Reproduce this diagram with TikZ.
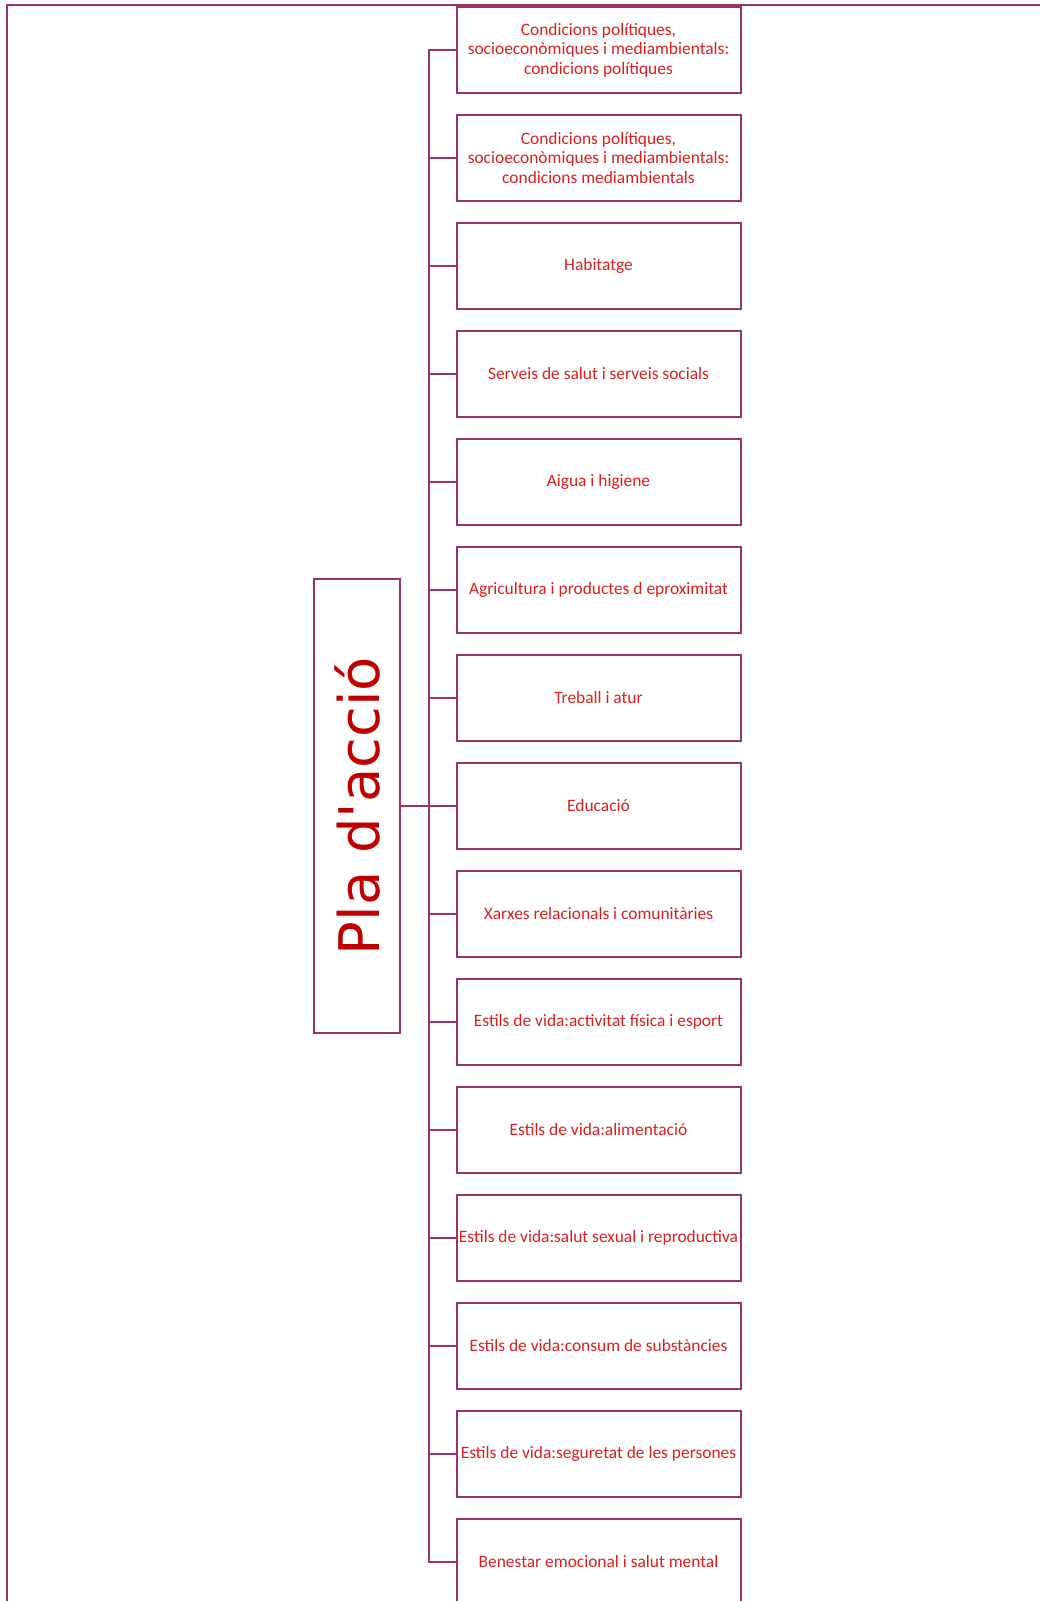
\documentclass[tikz,border=0pt]{standalone}
\usepackage{fontspec}
\setmainfont{Carlito}
\newfontfamily\bigfont{DejaVu Sans}
\definecolor{frame}{RGB}{155,52,102}
\definecolor{txt}{RGB}{220,30,30}
\definecolor{bigtxt}{RGB}{192,0,0}
\begin{document}
\begin{tikzpicture}[x=1pt,y=-1pt,
  box/.style={draw=frame,line width=2pt,minimum width=284pt,minimum height=86pt,inner sep=0pt,
    text=txt,font=\fontsize{17.4}{19.4}\selectfont,align=center},
  conn/.style={draw=frame,line width=2pt}]
\useasboundingbox (0,0) rectangle (1040,1601);
\draw[conn] (7,1601) -- (7,5) -- (1040,5);
\node[draw=frame,line width=2pt,minimum width=86pt,minimum height=454pt,inner sep=0pt] (main) at (357,806) {};
\node[rotate=90,text=bigtxt,font=\bigfont\fontsize{56}{60}\selectfont] (mainlabel) at (357,806) {Pla d'acció};
\coordinate (bus) at (429,806);
\foreach \i/\t in {0/{Condicions polítiques,\\socioeconòmiques i mediambientals:\\condicions polítiques},
  1/{Condicions polítiques,\\socioeconòmiques i mediambientals:\\condicions mediambientals},
  2/{Habitatge},
  3/{Serveis de salut i serveis socials},
  4/{Aigua i higiene},
  5/{Agricultura i productes d eproximitat},
  6/{Treball i atur},
  7/{Educació},
  8/{Xarxes relacionals i comunitàries},
  9/{Estils de vida:activitat física i esport},
  10/{Estils de vida:alimentació},
  11/{Estils de vida:salut sexual i reproductiva},
  12/{Estils de vida:consum de substàncies},
  13/{Estils de vida:seguretat de les persones},
  14/{Benestar emocional i salut mental}}{
  \node[box] (b\i) at (598.5,50+108*\i) {\t};
}
\draw[conn] (b0.west) -| (bus) |- (b14.west);
\foreach \i in {1,...,13}{ \draw[conn] (bus |- b\i.west) -- (b\i.west); }
\draw[conn] (main.east) -- (bus);
\end{tikzpicture}
\end{document}
